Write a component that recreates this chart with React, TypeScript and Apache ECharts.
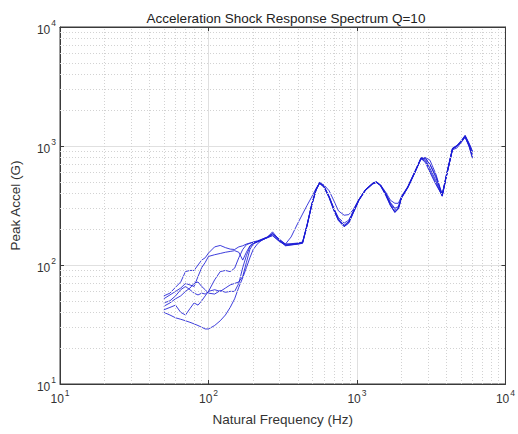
import React, { useEffect, useRef } from "react";
import * as echarts from "echarts";

const FREQ = [50, 55, 60, 65, 70, 75, 80, 85, 90, 95, 100, 110, 120, 130, 140, 150, 160, 170, 180, 190, 200, 215, 230, 250, 270, 300, 330, 360, 400, 430, 460, 495, 530, 560, 600, 650, 700, 750, 820, 880, 940, 1030, 1140, 1280, 1350, 1440, 1560, 1680, 1800, 1900, 2000, 2200, 2450, 2700, 2900, 3100, 3400, 3750, 4000, 4400, 4700, 5000, 5350, 5700, 6000];

const SRS_A = [55, 58, 65, 72, 88, 90, 90, 100, 110, 115, 126, 142, 146, 140, 136, 135, 142, 145, 150, 153, 155, 158, 165, 172, 185, 165, 150, 150, 152, 155, 212, 318, 425, 488, 455, 372, 292, 242, 214, 230, 275, 352, 428, 488, 498, 468, 392, 322, 282, 302, 372, 452, 600, 792, 720, 600, 475, 385, 560, 950, 1000, 1080, 1210, 1020, 860];
const SRS_B = [52, 56, 60, 64, 70, 68, 66, 80, 95, 105, 118, 122, 125, 128, 130, 132, 128, 110, 128, 145, 152, 158, 163, 170, 178, 158, 150, 172, 225, 268, 315, 372, 440, 490, 470, 420, 345, 285, 262, 265, 290, 355, 425, 480, 492, 472, 410, 350, 330, 330, 380, 455, 610, 780, 800, 760, 580, 390, 560, 930, 960, 1060, 1180, 1000, 800];
const SRS_C = [48, 50, 55, 62, 66, 62, 58, 56, 58, 57, 60, 75, 88, 90, 88, 94, 115, 135, 148, 152, 156, 160, 165, 172, 190, 162, 145, 147, 150, 153, 215, 322, 430, 492, 458, 375, 298, 250, 225, 238, 282, 355, 430, 485, 496, 470, 400, 335, 300, 310, 375, 455, 605, 800, 790, 700, 540, 390, 575, 960, 1010, 1100, 1230, 1050, 900];
const SRS_D = [45, 48, 52, 55, 60, 64, 70, 72, 66, 62, 58, 57, 61, 59, 60, 60, 70, 95, 120, 142, 152, 157, 162, 170, 182, 160, 147, 148, 150, 152, 210, 315, 425, 485, 452, 368, 288, 238, 210, 225, 270, 348, 422, 482, 495, 462, 385, 315, 278, 298, 368, 448, 595, 785, 760, 650, 510, 380, 555, 940, 990, 1070, 1190, 980, 780];
const SRS_E = [42, 44, 46, 40, 38, 43, 48, 46, 50, 55, 60, 62, 60, 64, 68, 70, 72, 80, 105, 135, 150, 157, 163, 170, 176, 158, 146, 149, 151, 154, 213, 318, 428, 486, 450, 365, 285, 236, 210, 226, 271, 350, 426, 486, 496, 466, 395, 330, 292, 305, 372, 450, 598, 788, 780, 700, 560, 388, 565, 955, 1000, 1090, 1200, 1000, 820];
const SRS_F = [40, 38, 36, 35, 34, 33, 32, 31, 30, 29, 29, 31, 34, 38, 44, 52, 65, 78, 95, 115, 135, 152, 162, 172, 183, 163, 149, 151, 153, 156, 214, 320, 432, 494, 460, 376, 295, 244, 216, 232, 276, 354, 430, 490, 500, 470, 392, 318, 276, 296, 366, 446, 592, 780, 740, 620, 490, 378, 550, 945, 995, 1075, 1220, 1040, 900];

const CURVES = [SRS_A, SRS_B, SRS_C, SRS_D, SRS_E, SRS_F];
const MINOR_X = [20, 30, 40, 50, 60, 70, 80, 90, 200, 300, 400, 500, 600, 700, 800, 900, 2000, 3000, 4000, 5000, 6000, 7000, 8000, 9000];
const MINOR_Y = [20, 30, 40, 50, 60, 70, 80, 90, 200, 300, 400, 500, 600, 700, 800, 900, 2000, 3000, 4000, 5000, 6000, 7000, 8000, 9000];

const FONT = "'Liberation Sans', Arial, Helvetica, sans-serif";
const TXT = "#333333";

export default function App() {
  const ref = useRef<HTMLDivElement>(null);
  useEffect(() => {
    document.body.style.margin = "0";
    const chart = echarts.init(ref.current!, null, { renderer: "svg" });
    const rich = {
      b: { fontSize: 12, fontFamily: FONT, color: TXT, padding: [5, 0, 0, 0], verticalAlign: "bottom" },
      s: { fontSize: 8.5, fontFamily: FONT, color: TXT, verticalAlign: "top", padding: [0, 0, 0, 1] },
    };
    const fmt = (v: number) => `{b|10}{s|${Math.round(Math.log10(v))}}`;
    const logAxisBase = {
      type: "log",
      logBase: 10,
      min: 10,
      max: 10000,
    };
    const option: any = {
      animation: false,
      title: {
        text: "Acceleration Shock Response Spectrum Q=10",
        left: 281,
        textAlign: "center",
        top: 6,
        textStyle: { fontFamily: FONT, fontSize: 13.5, fontWeight: "normal", color: "#222" },
      },
      grid: { left: 54, right: 11, top: 27, bottom: 50, show: true, borderColor: "#3a3a3a", borderWidth: 1, backgroundColor: "transparent" },
      xAxis: [
        {
          ...logAxisBase,
          position: "bottom",
          name: "Natural Frequency (Hz)",
          nameLocation: "middle",
          nameGap: 28,
          nameTextStyle: { fontFamily: FONT, fontSize: 13.5, color: TXT },
          axisLine: { lineStyle: { color: "#3a3a3a" } },
          axisTick: { inside: true, length: 4, lineStyle: { color: "#3a3a3a" } },
          axisLabel: { formatter: fmt, rich, margin: 4 },
          splitLine: { show: true, lineStyle: { color: "#e0e0e0", width: 1 } },
        },
        {
          ...logAxisBase,
          position: "top",
          axisLine: { lineStyle: { color: "#3a3a3a" } },
          axisTick: { inside: true, length: 4, lineStyle: { color: "#3a3a3a" } },
          axisLabel: { show: false },
          splitLine: { show: false },
        },
      ],
      yAxis: [
        {
          ...logAxisBase,
          position: "left",
          name: "Peak Accel (G)",
          nameLocation: "middle",
          nameGap: 38,
          nameTextStyle: { fontFamily: FONT, fontSize: 13.5, color: TXT },
          axisLine: { lineStyle: { color: "#3a3a3a" } },
          axisTick: { inside: true, length: 4, lineStyle: { color: "#3a3a3a" } },
          axisLabel: { formatter: fmt, rich, margin: 4 },
          splitLine: { show: true, lineStyle: { color: "#e0e0e0", width: 1 } },
        },
        {
          ...logAxisBase,
          position: "right",
          axisLine: { lineStyle: { color: "#3a3a3a" } },
          axisTick: { inside: true, length: 4, lineStyle: { color: "#3a3a3a" } },
          axisLabel: { show: false },
          splitLine: { show: false },
        },
      ],
      series: [
        {
          type: "line",
          data: [],
          z: 0,
          silent: true,
          markLine: {
            silent: true,
            symbol: ["none", "none"],
            label: { show: false },
            lineStyle: { type: [1, 2], color: "#d2d2d2", width: 1 },
            data: [...MINOR_X.map((v) => ({ xAxis: v })), ...MINOR_Y.map((v) => ({ yAxis: v }))],
          },
        },
        ...CURVES.map((vals, k) => ({
          type: "line",
          name: `SRS ${k + 1}`,
          z: 3,
          showSymbol: false,
          symbol: "none",
          lineStyle: { color: "#1c1cd6", width: 1, opacity: 0.85 },
          data: vals.map((v, i) => [FREQ[i], v]),
        })),
      ],
    };
    chart.setOption(option);
    return () => chart.dispose();
  }, []);
  return <div ref={ref} style={{ width: 518, height: 434 }} />;
}
